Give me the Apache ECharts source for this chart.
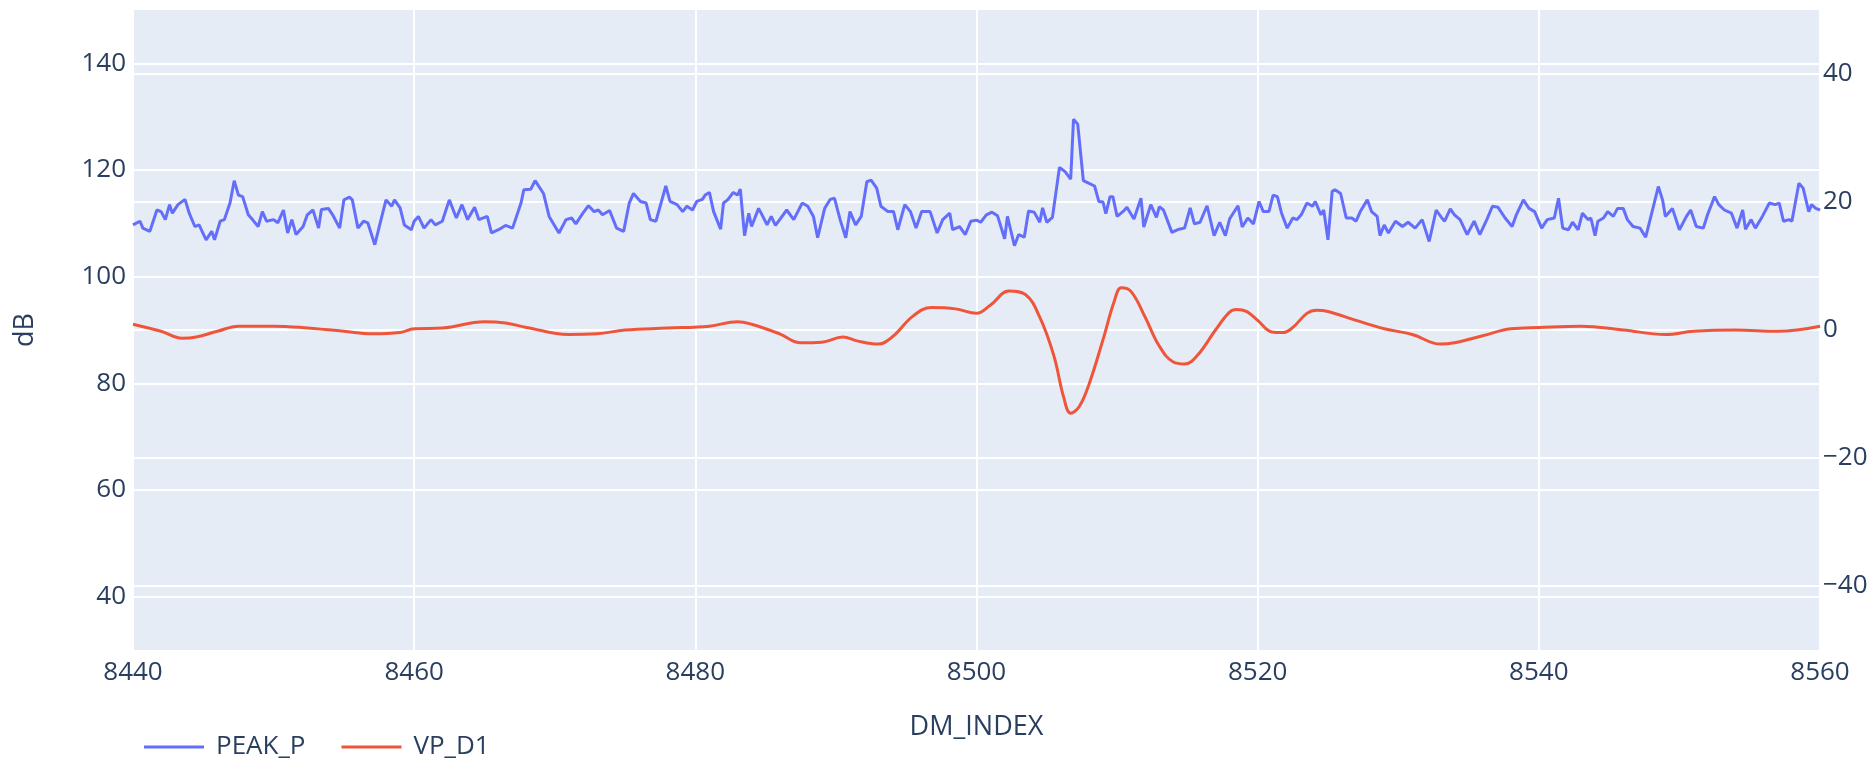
<!DOCTYPE html>
<html>
<head>
<meta charset="utf-8">
<script src="https://cdn.jsdelivr.net/npm/echarts@6/dist/echarts.min.js"></script>
<style>
html,body{margin:0;padding:0;background:#fff;}
#chart{width:1875px;height:761px;}
</style>
</head>
<body>
<div id="chart"></div>
<script>
const seriesNames = ['PEAK_P', 'VP_D1'];
const xTicks = [8440, 8460, 8480, 8500, 8520, 8540, 8560];

// PEAK_P (left axis, dB): [DM_INDEX, value]
const peakP = [
[8440.0,109.7],[8440.5,110.4],[8440.7,109.1],[8441.2,108.5],[8441.7,112.5],[8442.0,112.2],[8442.3,110.7],[8442.6,113.5],[8442.8,111.9],[8443.2,113.5],[8443.7,114.5],[8444.0,111.9],[8444.4,109.4],[8444.7,109.7],[8445.2,106.9],[8445.6,108.5],[8445.8,106.9],[8446.2,110.4],[8446.5,110.7],[8446.9,113.8],[8447.2,118.0],[8447.5,115.3],[8447.8,115.0],[8448.2,111.6],[8448.5,110.7],[8448.9,109.4],[8449.2,112.2],[8449.5,110.4],[8450.0,110.7],[8450.3,110.1],[8450.7,112.5],[8451.0,108.2],[8451.3,110.7],[8451.6,107.9],[8452.1,109.4],[8452.4,111.6],[8452.8,112.5],[8453.2,109.1],[8453.4,112.6],[8453.9,112.8],[8454.2,111.6],[8454.7,109.1],[8455.0,114.4],[8455.4,114.9],[8455.6,114.4],[8456.0,109.1],[8456.4,110.4],[8456.7,110.1],[8457.2,106.0],[8457.7,111.3],[8458.0,114.4],[8458.4,113.2],[8458.6,114.4],[8459.0,112.9],[8459.3,109.7],[8459.8,108.8],
[8460.0,110.4],[8460.3,111.3],[8460.7,109.1],[8461.2,110.7],[8461.5,109.7],[8462.0,110.4],[8462.5,114.4],[8463.0,111.0],[8463.4,113.5],[8463.8,110.7],[8464.3,113.0],[8464.6,110.7],[8465.2,111.3],[8465.5,108.2],[8466.0,108.8],[8466.5,109.6],[8467.0,109.1],[8467.6,113.8],[8467.8,116.3],[8468.3,116.4],[8468.6,118.0],[8469.2,115.6],[8469.6,111.3],[8470.3,108.2],[8470.8,110.7],[8471.2,111.0],[8471.5,109.9],[8472.0,111.9],[8472.4,113.3],[8472.8,112.2],[8473.1,112.5],[8473.4,111.6],[8473.9,112.4],[8474.4,109.1],[8474.9,108.5],[8475.3,113.8],[8475.6,115.6],[8476.1,114.1],[8476.5,113.8],[8476.8,110.7],[8477.2,110.4],[8477.9,117.0],[8478.2,114.1],[8478.7,113.5],[8479.1,112.2],[8479.4,113.2],[8479.8,112.5],
[8480.1,114.1],[8480.5,114.5],[8480.7,115.3],[8481.0,115.8],[8481.3,112.2],[8481.8,108.9],[8482.0,113.8],[8482.3,114.4],[8482.7,115.8],[8483.0,115.3],[8483.2,116.4],[8483.5,107.7],[8483.8,111.9],[8484.0,109.4],[8484.5,112.8],[8484.8,111.3],[8485.1,109.7],[8485.4,111.3],[8485.7,109.6],[8486.0,110.7],[8486.5,112.5],[8487.0,110.7],[8487.6,113.8],[8488.0,113.2],[8488.4,111.3],[8488.7,107.3],[8489.2,112.8],[8489.6,114.5],[8489.9,114.7],[8490.3,110.7],[8490.7,107.3],[8491.0,112.2],[8491.4,109.7],[8491.8,111.3],[8492.2,117.8],[8492.5,118.1],[8492.9,116.6],[8493.2,113.2],[8493.7,112.2],[8494.1,112.2],[8494.4,108.8],[8494.9,113.5],[8495.3,112.2],[8495.7,109.1],[8496.1,112.2],[8496.7,112.2],[8497.2,108.2],[8497.6,110.7],[8498.1,111.9],[8498.3,108.8],[8498.8,109.4],[8499.2,107.9],[8499.6,110.4],
[8500.0,110.6],[8500.3,110.2],[8500.7,111.6],[8501.1,112.1],[8501.5,111.4],[8502.0,107.1],[8502.2,111.3],[8502.7,105.8],[8503.0,107.9],[8503.4,107.4],[8503.7,112.3],[8504.1,112.1],[8504.5,110.2],[8504.7,112.9],[8505.0,110.2],[8505.4,111.1],[8505.9,120.5],[8506.3,119.7],[8506.7,118.3],[8506.9,129.5],[8507.2,128.6],[8507.6,118.0],[8508.4,117.0],[8508.7,114.1],[8509.0,114.0],[8509.2,111.8],[8509.5,115.0],[8509.7,115.0],[8510.0,111.3],[8510.5,112.4],[8510.7,113.0],[8511.2,110.8],[8511.7,114.7],[8511.9,109.3],[8512.4,113.5],[8512.8,111.1],[8513.0,113.1],[8513.3,112.5],[8513.9,108.3],[8514.4,108.9],[8514.8,109.1],[8515.2,112.9],[8515.5,109.9],[8515.9,110.2],[8516.4,113.3],[8516.9,107.7],[8517.3,110.2],[8517.7,107.7],[8518.0,110.8],[8518.6,113.3],[8518.9,109.3],[8519.3,111.0],[8519.7,109.9],
[8520.1,114.1],[8520.4,112.2],[8520.8,112.2],[8521.1,115.3],[8521.4,115.0],[8521.7,111.9],[8522.1,109.1],[8522.5,111.0],[8522.8,110.7],[8523.1,111.6],[8523.5,113.8],[8523.9,113.2],[8524.1,114.1],[8524.5,111.6],[8524.7,112.5],[8525.0,106.9],[8525.3,116.0],[8525.5,116.3],[8525.9,115.6],[8526.3,111.0],[8526.7,111.0],[8527.0,110.4],[8527.3,112.2],[8527.8,114.4],[8528.1,112.2],[8528.5,111.3],[8528.7,107.7],[8529.0,109.7],[8529.3,108.2],[8529.8,110.4],[8530.3,109.4],[8530.7,110.2],[8531.2,109.1],[8531.7,110.7],[8532.2,106.6],[8532.7,112.5],[8533.1,111.0],[8533.3,110.4],[8533.7,112.7],[8534.0,111.6],[8534.4,110.7],[8534.9,107.9],[8535.4,110.4],[8535.8,107.9],[8536.3,110.7],[8536.7,113.2],[8537.1,113.0],[8537.6,111.0],[8538.1,109.4],[8538.4,111.6],[8538.9,114.4],[8539.3,112.8],[8539.7,112.2],
[8540.2,109.1],[8540.6,110.7],[8541.1,111.0],[8541.4,114.7],[8541.7,109.1],[8542.1,108.8],[8542.4,110.2],[8542.8,108.8],[8543.1,111.9],[8543.5,110.7],[8543.7,111.0],[8544.0,107.7],[8544.2,110.4],[8544.6,111.0],[8544.9,112.2],[8545.3,111.3],[8545.6,112.8],[8546.0,112.8],[8546.3,110.7],[8546.7,109.4],[8547.2,109.1],[8547.6,107.4],[8548.0,111.6],[8548.5,116.9],[8548.8,114.4],[8549.0,111.3],[8549.5,112.8],[8550.0,108.8],[8550.5,111.3],[8550.8,112.5],[8551.2,109.4],[8551.7,109.1],[8552.0,111.6],[8552.5,115.0],[8552.8,113.5],[8553.2,112.5],[8553.7,111.9],[8554.1,109.1],[8554.5,112.5],[8554.7,108.9],[8555.1,110.7],[8555.4,109.1],[8555.9,111.3],[8556.4,113.8],[8556.8,113.5],[8557.1,113.8],[8557.4,110.4],[8557.8,110.7],[8558.0,110.4],[8558.5,117.5],[8558.8,116.6],[8559.2,112.2],[8559.4,113.5],[8559.7,112.8],[8560.0,112.5]
];

// VP_D1 (right axis): [DM_INDEX, value]
const vpD1 = [
[8440,0.9],[8442,-0.2],[8443.5,-1.3],[8444.5,-1.1],[8446,-0.2],[8447.5,0.6],[8450,0.6],[8452,0.4],[8455,-0.2],[8457,-0.6],[8459,-0.4],[8460,0.2],[8462,0.3],[8465,1.3],[8466.5,1.1],[8468,0.4],[8471,-0.7],[8473,-0.6],[8475,0],[8478,0.3],[8481,0.6],[8483,1.3],[8484,0.9],[8486,-0.6],[8487.5,-2.0],[8489,-1.9],[8490.5,-1.1],[8491.5,-1.7],[8493,-2.2],[8494,-1.1],[8495.5,2.2],[8496.8,3.5],[8498.5,3.3],[8500,2.6],[8501,3.9],[8502.3,6.1],[8503.5,5.5],[8504.5,2.0],[8505.5,-4.0],[8506.2,-10.5],[8506.7,-13.0],[8507.3,-12.0],[8508,-8.5],[8509,-1.5],[8509.8,4.5],[8510.3,6.6],[8511,6.0],[8512,2.0],[8513,-2.5],[8514,-5.0],[8514.8,-5.3],[8515.7,-4.0],[8517,0.0],[8518,2.8],[8518.5,3.2],[8519.2,2.9],[8520,1.5],[8521,-0.3],[8521.8,-0.4],[8522.5,0.4],[8523.5,2.6],[8524.2,3.1],[8525,2.9],[8527,1.5],[8529,0.2],[8531,-0.7],[8533,-2.2],[8534,-2.0],[8536,-0.9],[8538,0.2],[8540,0.4],[8543,0.6],[8546,0],[8549,-0.7],[8551,-0.2],[8554,0],[8557,-0.2],[8560,0.6]
];

const FONT = '"Open Sans", Roboto, sans-serif';
const TXT = '#2a3f5f';
const fmt = function (v) { return (v < 0 ? '\u2212' + Math.abs(v) : String(v)); };

const chart = echarts.init(document.getElementById('chart'), null, {renderer: 'canvas'});
const yCommon = {
  type: 'value',
  axisLine: {show: false},
  axisTick: {show: false},
  splitLine: {show: true, showMinLine: false, showMaxLine: false, lineStyle: {color: '#ffffff', width: 2}},
  axisLabel: {color: TXT, fontSize: 26, fontFamily: FONT, showMinLabel: false, showMaxLabel: false, formatter: fmt}
};
chart.setOption({
  animation: false,
  backgroundColor: '#ffffff',
  textStyle: {fontFamily: FONT, color: TXT},
  grid: {left: 133, right: 55, top: 10, bottom: 111, show: true, backgroundColor: '#E5ECF6', borderWidth: 0, containLabel: false},
  legend: {
    data: seriesNames,
    left: 144, top: 734, padding: 0,
    icon: 'rect', itemWidth: 60, itemHeight: 3, itemGap: 36,
    textStyle: {color: TXT, fontSize: 26, fontFamily: FONT, padding: [0, 0, 0, 7]}
  },
  xAxis: {
    type: 'value', min: xTicks[0], max: xTicks[xTicks.length - 1], interval: 20,
    name: 'DM_INDEX', nameLocation: 'middle', nameGap: 64,
    nameTextStyle: {color: TXT, fontSize: 27, fontFamily: FONT},
    axisLine: {show: false}, axisTick: {show: false},
    splitLine: {show: true, lineStyle: {color: '#ffffff', width: 2}},
    axisLabel: {color: TXT, fontSize: 26, fontFamily: FONT, margin: 10, formatter: fmt}
  },
  yAxis: [
    Object.assign({}, yCommon, {
      position: 'left', min: 30, max: 150, splitNumber: 6,
      name: 'dB', nameLocation: 'middle', nameGap: 94,
      nameTextStyle: {color: TXT, fontSize: 27, fontFamily: FONT},
      axisLabel: Object.assign({}, yCommon.axisLabel, {margin: 7})
    }),
    Object.assign({}, yCommon, {
      position: 'right', min: -50, max: 50, splitNumber: 5,
      axisLabel: Object.assign({}, yCommon.axisLabel, {margin: 3})
    })
  ],
  series: [
    {name: seriesNames[0], type: 'line', yAxisIndex: 0, data: peakP, showSymbol: false, symbol: 'none',
     lineStyle: {color: '#636EFA', width: 3}, itemStyle: {color: '#636EFA'}},
    {name: seriesNames[1], type: 'line', yAxisIndex: 1, data: vpD1, showSymbol: false, symbol: 'none', smooth: 0.4,
     lineStyle: {color: '#EF553B', width: 3}, itemStyle: {color: '#EF553B'}}
  ]
});
</script>
</body>
</html>
